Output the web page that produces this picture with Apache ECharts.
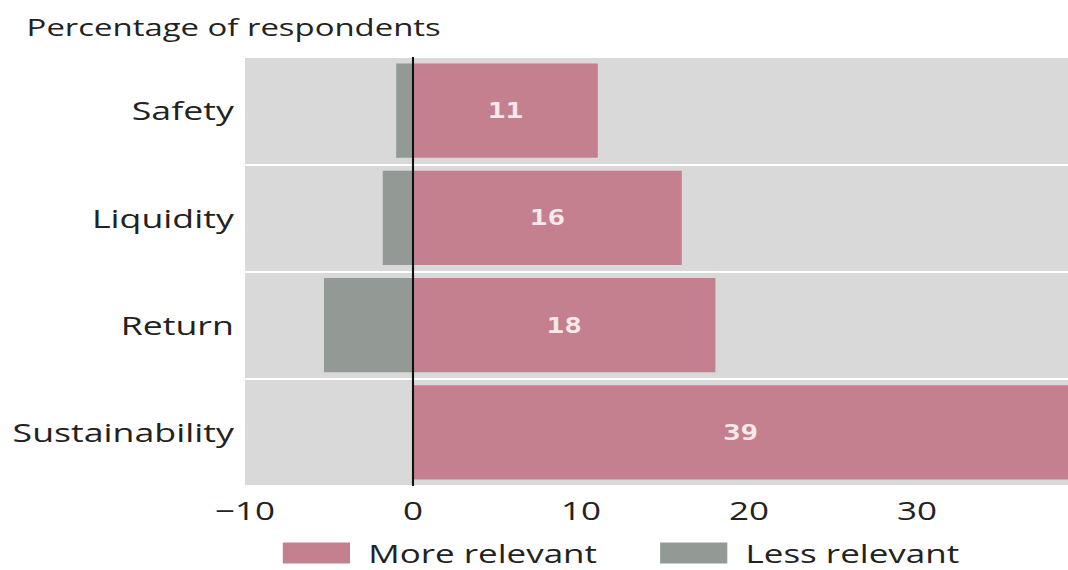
<!DOCTYPE html>
<html>
<head>
<meta charset="utf-8">
<script src="https://cdn.jsdelivr.net/npm/echarts@6/dist/echarts.min.js"></script>
<style>
  html, body { margin: 0; padding: 0; background: #ffffff; overflow: hidden; }
  /* The chart is laid out narrow and widened horizontally, giving the
     broad, stretched letterforms of the published figure. */
  #chart {
    width: 763px;
    height: 570px;
    transform: scaleX(1.4);
    transform-origin: 0 0;
  }
</style>
</head>
<body>
<div id="chart"></div>
<script>
// Survey factors, top to bottom
const categories = ['Safety', 'Liquidity', 'Return', 'Sustainability'];
// Share of respondents rating each factor more relevant
const moreRelevant = [11, 16, 18, 39];
// Share rating it less relevant (plotted to the left of zero)
const lessRelevant = [-1, -1.8, -5.3, 0];
// Horizontal axis range and step
const axisMin = -10;
const axisMax = 39;
const axisStep = 10;

const FONT = '"Open Sans", "Noto Sans", sans-serif';
const INK = '#222222';
const PINK = '#c4808f';
const GREY = '#939a95';

const chart = echarts.init(document.getElementById('chart'), null, { renderer: 'svg' });

chart.setOption({
  animation: false,
  backgroundColor: '#ffffff',
  title: {
    text: 'Percentage of respondents',
    left: 19,
    top: 15,
    padding: 0,
    textStyle: { fontFamily: FONT, fontSize: 23.5, fontWeight: 'normal', color: INK }
  },
  legend: {
    left: 202,
    bottom: 4,
    padding: 0,
    itemWidth: 48,
    itemHeight: 21,
    itemGap: 45,
    icon: 'rect',
    textStyle: {
      fontFamily: FONT,
      fontSize: 25,
      lineHeight: 26,
      color: INK,
      padding: [0, 0, 0, 8]
    },
    data: ['More relevant', 'Less relevant']
  },
  grid: {
    left: 175,
    right: 0,
    top: 57,
    bottom: 84,
    show: true,
    backgroundColor: '#d9d9d9',
    borderWidth: 0
  },
  xAxis: {
    type: 'value',
    min: axisMin,
    max: axisMax,
    interval: axisStep,
    axisLine: { show: false },
    axisTick: { show: false },
    splitLine: { show: false },
    axisLabel: {
      showMaxLabel: false,
      margin: 12,
      fontFamily: FONT,
      fontSize: 25,
      color: INK,
      formatter: v => String(v).replace('-', '\u2212')
    }
  },
  yAxis: {
    type: 'category',
    inverse: true,
    data: categories,
    axisLine: { show: false },
    axisTick: { show: false },
    splitLine: { show: true, lineStyle: { color: '#ffffff', width: 2 } },
    axisLabel: {
      margin: 8,
      fontFamily: FONT,
      fontSize: 25.5,
      color: INK
    }
  },
  series: [
    {
      name: 'More relevant',
      type: 'bar',
      data: moreRelevant,
      barWidth: '88%',
      itemStyle: { color: PINK },
      label: {
        show: true,
        position: 'inside',
        fontFamily: '"DejaVu Sans Mono", monospace',
        fontSize: 21,
        fontWeight: 'bold',
        color: '#f6e9ec'
      },
      markLine: {
        silent: true,
        symbol: 'none',
        label: { show: false },
        lineStyle: { color: '#111111', width: 1.5, type: 'solid' },
        data: [{ xAxis: 0 }]
      },
      z: 2
    },
    {
      name: 'Less relevant',
      type: 'bar',
      data: lessRelevant,
      barWidth: '88%',
      barGap: '-100%',
      itemStyle: { color: GREY },
      z: 2
    }
  ]
});
</script>
</body>
</html>
